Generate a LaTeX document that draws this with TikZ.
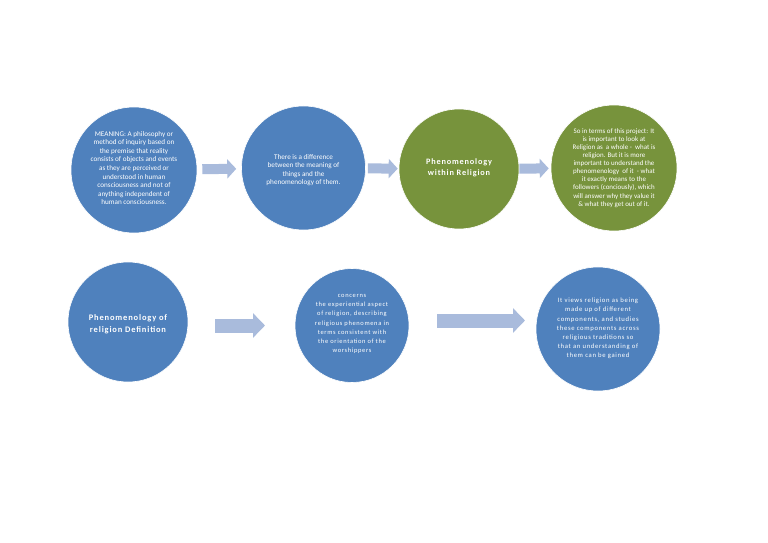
\documentclass[tikz,border=0pt]{standalone}
\usepackage{fontspec}
\setmainfont{Carlito}
\newfontfamily\spacedfont[LetterSpace=10]{Carlito}
\usetikzlibrary{arrows.meta}
\definecolor{cblue}{HTML}{4F81BD}
\definecolor{cgreen}{HTML}{77933C}
\definecolor{carrow}{HTML}{A9BBDC}
\tikzset{
  bluedot/.style={circle, fill=cblue, draw=white, line width=0.6bp, inner sep=0pt},
  greendot/.style={circle, fill=cgreen, draw=white, line width=0.6bp, inner sep=0pt},
  ctext/.style={text=white, align=center, inner sep=0pt, font=\fontsize{7.2}{8.6}\selectfont},
  stext/.style={text=white, align=center, inner sep=0pt, font=\spacedfont\fontsize{6.5}{9.2}\selectfont},
  btext/.style={text=white, align=center, inner sep=0pt, font=\spacedfont\bfseries\fontsize{8.3}{10.5}\selectfont},
  blockarrow/.style={draw=carrow, line width=10bp, -{Triangle[width=19bp,length=9bp]}},
  bigarrow/.style={draw=carrow, line width=14bp, -{Triangle[width=24bp,length=12bp]}}
}
\begin{document}
\begin{tikzpicture}[x=1bp,y=-1bp]
\fill[white] (0,0) rectangle (768,543);
\useasboundingbox (0,0) rectangle (768,543);
% row 1
\node[bluedot, minimum size=126bp] (c1) at (134,170) {};
\node[ctext] (t1) at (134,168) {MEANING: A philosophy or\\method of inquiry based on\\the premise that reality\\consists of objects and events\\as they are perceived or\\understood in human\\consciousness and not of\\anything independent of\\human consciousness.};
\node[bluedot, minimum size=124bp] (c2) at (303.5,168) {};
\node[ctext] (t2) at (303.5,170) {There is a difference\\between the meaning of\\things and the\\phenomenology of them.};
\node[greendot, minimum size=120bp] (c3) at (459,169) {};
\node[btext] (t3) at (459,168) {Phenomenology\\within Religion};
\node[greendot, minimum size=126bp] (c4) at (614,168) {};
\node[ctext, font=\fontsize{7}{8.1}\selectfont] (t4) at (614,168) {So in terms of this project: It\\is important to look at\\Religion as\ \ a whole -\ \ what is\\religion. But it is more\\important to understand the\\phenomenology\ \ of it\ \ - what\\it exactly means to the\\followers (conciously), which\\will answer why they value it\\\& what they get out of it.};
% row 2
\node[bluedot, minimum size=120bp] (c5) at (128,322) {};
\node[btext, font=\spacedfont\bfseries\fontsize{8.5}{12}\selectfont] (t5) at (128,324) {Phenomenology of\\religion Definition};
\node[bluedot, minimum size=114bp] (c6) at (352,325.5) {};
\node[stext] (t6) at (352,324) {concerns\\the experiential aspect\\of religion, describing\\religious phenomena in\\terms consistent with\\the orientation of the\\worshippers};
\node[bluedot, minimum size=124bp] (c7) at (598,329) {};
\node[stext, font=\spacedfont\fontsize{6.7}{9.2}\selectfont] (t7) at (598,328.5) {It views religion as being\\made up of different\\components, and studies\\these components across\\religious traditions so\\that an understanding of\\them can be gained};
% arrows
\draw[blockarrow, shorten <=5bp, shorten >=5bp] (c1) -- (c2);
\draw[blockarrow, shorten <=2bp, shorten >=1bp] (c2) -- (c3);
\draw[blockarrow, shorten <=0bp, shorten >=2bp] (c3) -- (c4);
\coordinate (a5) at (188,325.5);
\coordinate (a6a) at (295,325.5);
\draw[bigarrow, shorten <=27bp, shorten >=30bp] (a5) -- (a6a);
\coordinate (a6) at (409,320.5);
\coordinate (a7) at (536,320.5);
\draw[bigarrow, shorten <=28bp, shorten >=11bp] (a6) -- (a7);
\end{tikzpicture}
\end{document}
